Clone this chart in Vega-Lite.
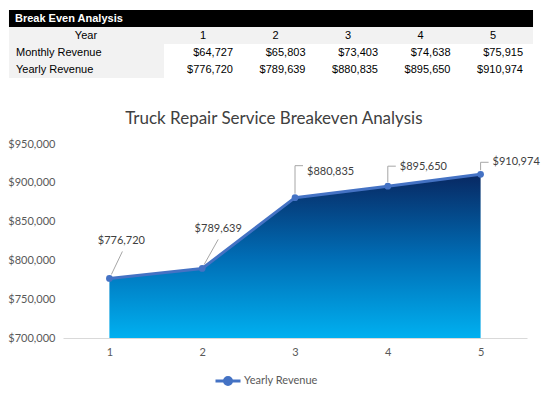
{
  "$schema": "https://vega.github.io/schema/vega-lite/v6.json",
  "description": "Break even table and truck repair service yearly revenue area chart.",
  "background": "white",
  "padding": {"left": 7, "top": 10, "right": 5, "bottom": 5},
  "datasets": {
    "revenue": [
      {"Year": 1, "Monthly": 64727, "Yearly": 776720},
      {"Year": 2, "Monthly": 65803, "Yearly": 789639},
      {"Year": 3, "Monthly": 73403, "Yearly": 880835},
      {"Year": 4, "Monthly": 74638, "Yearly": 895650},
      {"Year": 5, "Monthly": 75915, "Yearly": 910974}
    ],
    "rows": [
      {"row": "Break Even Analysis"},
      {"row": "Year"},
      {"row": "Monthly Revenue"},
      {"row": "Yearly Revenue"}
    ]
  },
  "spacing": 32,
  "vconcat": [
    {
      "width": 464,
      "height": 68,
      "layer": [
        {
          "data": {"name": "rows"},
          "transform": [{"filter": "datum.row == 'Break Even Analysis'"}],
          "mark": {"type": "rect", "color": "black"},
          "encoding": {
            "y": {
              "field": "row",
              "type": "nominal",
              "scale": {
                "domain": ["Break Even Analysis", "Year", "Monthly Revenue", "Yearly Revenue"],
                "paddingInner": 0,
                "paddingOuter": 0
              },
              "axis": null
            },
            "x": {
              "datum": -1.676,
              "type": "quantitative",
              "scale": {"domain": [-0.931, 5.469], "nice": false, "zero": false},
              "axis": null
            },
            "x2": {"datum": 5.552}
          }
        },
        {
          "data": {"name": "rows"},
          "transform": [{"filter": "datum.row == 'Year'"}],
          "mark": {"type": "rect", "color": "#F2F2F2"},
          "encoding": {
            "y": {"field": "row", "type": "nominal"},
            "x": {"datum": -1.676, "type": "quantitative"},
            "x2": {"datum": 5.552}
          }
        },
        {
          "data": {"name": "rows"},
          "transform": [{"filter": "datum.row == 'Monthly Revenue' || datum.row == 'Yearly Revenue'"}],
          "mark": {"type": "rect", "color": "#F2F2F2"},
          "encoding": {
            "y": {"field": "row", "type": "nominal"},
            "x": {"datum": -1.676, "type": "quantitative"},
            "x2": {"datum": 0.462}
          }
        },
        {
          "data": {"name": "rows"},
          "transform": [{"filter": "datum.row == 'Break Even Analysis'"}],
          "mark": {"type": "text", "align": "left", "dx": 6, "font": "Liberation Sans", "fontSize": 11, "fontWeight": "bold", "color": "white"},
          "encoding": {
            "y": {"field": "row", "type": "nominal"},
            "x": {"datum": -1.676, "type": "quantitative"},
            "text": {"field": "row"}
          }
        },
        {
          "data": {"name": "rows"},
          "transform": [{"filter": "datum.row == 'Year'"}],
          "mark": {"type": "text", "align": "center", "font": "Liberation Sans", "fontSize": 11, "color": "black"},
          "encoding": {
            "y": {"field": "row", "type": "nominal"},
            "x": {"datum": -0.614, "type": "quantitative"},
            "text": {"field": "row"}
          }
        },
        {
          "data": {"name": "rows"},
          "transform": [{"filter": "datum.row == 'Monthly Revenue' || datum.row == 'Yearly Revenue'"}],
          "mark": {"type": "text", "align": "left", "dx": 7, "font": "Liberation Sans", "fontSize": 11, "color": "black"},
          "encoding": {
            "y": {"field": "row", "type": "nominal"},
            "x": {"datum": -1.676, "type": "quantitative"},
            "text": {"field": "row"}
          }
        },
        {
          "data": {"name": "revenue"},
          "mark": {"type": "text", "align": "center", "font": "Liberation Sans", "fontSize": 11, "color": "black"},
          "encoding": {
            "y": {"datum": "Year", "type": "nominal"},
            "x": {"field": "Year", "type": "quantitative"},
            "text": {"field": "Year", "type": "nominal"}
          }
        },
        {
          "data": {"name": "revenue"},
          "mark": {"type": "text", "align": "right", "dx": 30, "font": "Liberation Sans", "fontSize": 11, "color": "black"},
          "encoding": {
            "y": {"datum": "Monthly Revenue", "type": "nominal"},
            "x": {"field": "Year", "type": "quantitative"},
            "text": {"field": "Monthly", "type": "quantitative", "format": "$,.0f"}
          }
        },
        {
          "data": {"name": "revenue"},
          "mark": {"type": "text", "align": "right", "dx": 30, "font": "Liberation Sans", "fontSize": 11, "color": "black"},
          "encoding": {
            "y": {"datum": "Yearly Revenue", "type": "nominal"},
            "x": {"field": "Year", "type": "quantitative"},
            "text": {"field": "Yearly", "type": "quantitative", "format": "$,.0f"}
          }
        }
      ]
    },
    {
      "width": 464,
      "height": 194,
      "title": {
        "text": "Truck Repair Service Breakeven Analysis",
        "font": "Lato",
        "fontSize": 17,
        "fontWeight": "normal",
        "color": "#404040",
        "anchor": "middle",
        "frame": "bounds",
        "offset": 10
      },
      "data": {"name": "revenue"},
      "encoding": {
        "x": {
          "field": "Year",
          "type": "ordinal",
          "scale": {"type": "point", "padding": 0.5},
          "axis": {
            "title": null,
            "labelAngle": 0,
            "ticks": false,
            "grid": false,
            "domainColor": "#D9D9D9",
            "labelFont": "Lato",
            "labelFontSize": 11,
            "labelColor": "#595959",
            "labelPadding": 8
          }
        },
        "y": {
          "field": "Yearly",
          "type": "quantitative",
          "scale": {"domain": [700000, 950000], "zero": false, "nice": false},
          "axis": {
            "title": null,
            "format": "$,.0f",
            "values": [700000, 750000, 800000, 850000, 900000, 950000],
            "domain": false,
            "ticks": false,
            "grid": false,
            "labelFont": "Lato",
            "labelFontSize": 11,
            "labelColor": "#595959",
            "labelPadding": 8
          }
        }
      },
      "layer": [
        {
          "mark": {
            "type": "area",
            "fill": {
              "gradient": "linear",
              "x1": 0, "y1": 0, "x2": 0, "y2": 1,
              "stops": [
                {"offset": 0, "color": "#082862"},
                {"offset": 0.5, "color": "#006CB4"},
                {"offset": 1, "color": "#00B0F0"}
              ]
            }
          },
          "encoding": {
            "y2": {"datum": 700000}
          }
        },
        {
          "mark": {
            "type": "rule",
            "color": "#A6A6A6",
            "strokeWidth": 1,
            "xOffset": {"expr": "datum.Year <= 2 ? 2 : 0"},
            "yOffset": -4,
            "x2Offset": {"expr": "datum.Year == 1 ? 13 : datum.Year == 2 ? 16 : 0"},
            "y2Offset": {"expr": "datum.Year == 1 ? -27 : datum.Year == 2 ? -29 : datum.Year == 3 ? -32 : datum.Year == 4 ? -20 : -12"}
          },
          "encoding": {
            "x2": {"field": "Year"},
            "y2": {"field": "Yearly"}
          }
        },
        {
          "transform": [{"filter": "datum.Year >= 3"}],
          "mark": {
            "type": "rule",
            "color": "#A6A6A6",
            "strokeWidth": 1,
            "yOffset": {"expr": "datum.Year == 3 ? -32 : datum.Year == 4 ? -20 : -12"},
            "x2Offset": 8
          },
          "encoding": {
            "x2": {"field": "Year"}
          }
        },
        {
          "mark": {
            "type": "line",
            "strokeWidth": 3,
            "point": {"filled": true, "size": 45}
          },
          "encoding": {
            "color": {
              "datum": "Yearly Revenue",
              "type": "nominal",
              "scale": {"range": ["#4472C4"]},
              "legend": {
                "orient": "none",
                "legendX": 151,
                "legendY": 357,
                "title": null,
                "labelFont": "Lato",
                "labelFontSize": 11,
                "labelColor": "#595959",
                "labelOffset": 2,
                "symbolType": "M-1,0H1M-0.28,0A0.28,0.28 0 1,1 0.28,0A0.28,0.28 0 1,1 -0.28,0Z",
                "symbolSize": 625,
                "symbolStrokeWidth": 3,
                "symbolFillColor": "#4472C4",
                "symbolStrokeColor": "#4472C4"
              }
            }
          }
        },
        {
          "mark": {
            "type": "text",
            "font": "Lato",
            "fontSize": 11,
            "color": "#404040",
            "baseline": "middle",
            "align": {"expr": "datum.Year <= 2 ? 'center' : 'left'"},
            "dx": {"expr": "datum.Year == 1 ? 12 : datum.Year == 2 ? 16 : 12"},
            "dy": {"expr": "datum.Year == 1 ? -37 : datum.Year == 2 ? -39 : datum.Year == 3 ? -26 : datum.Year == 4 ? -19 : -12"}
          },
          "encoding": {
            "text": {"field": "Yearly", "type": "quantitative", "format": "$,.0f"}
          }
        }
      ]
    }
  ],
  "config": {"view": {"stroke": null}}
}
